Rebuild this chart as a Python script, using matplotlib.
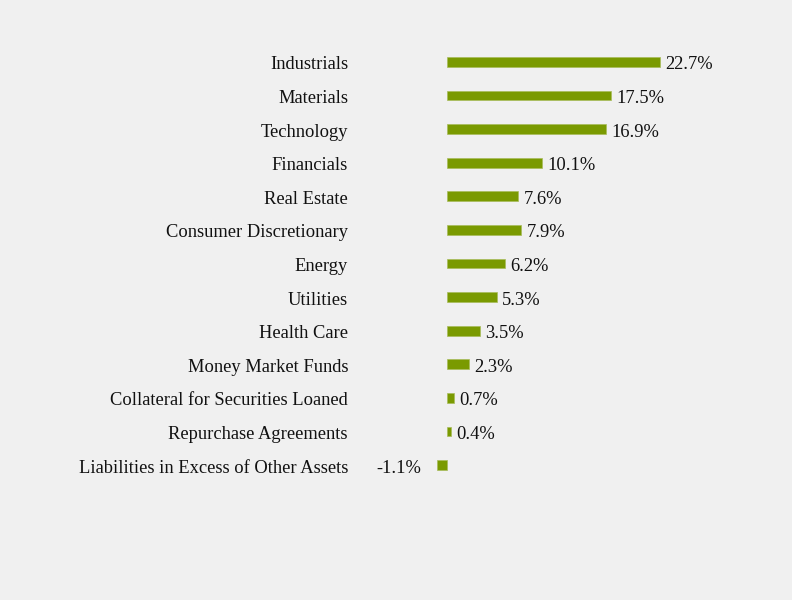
import matplotlib
matplotlib.use("Agg")
import matplotlib.pyplot as plt
from matplotlib.transforms import offset_copy

categories = ["Industrials", "Materials", "Technology", "Financials", "Real Estate",
              "Consumer Discretionary", "Energy", "Utilities", "Health Care",
              "Money Market Funds", "Collateral for Securities Loaned",
              "Repurchase Agreements", "Liabilities in Excess of Other Assets"]
values = [22.7, 17.5, 16.9, 10.1, 7.6, 7.9, 6.2, 5.3, 3.5, 2.3, 0.7, 0.4, -1.1]
labels = ["22.7%", "17.5%", "16.9%", "10.1%", "7.6%", "7.9%", "6.2%", "5.3%",
          "3.5%", "2.3%", "0.7%", "0.4%", "-1.1%"]

bg = "#f0f0f0"
bar_color = "#7a9a01"
W, H = 792, 600
plt.rcParams['font.family'] = ['Liberation Serif', 'DejaVu Serif']
fig = plt.figure(figsize=(W / 100, H / 100), dpi=100, facecolor=bg)

left_px, right_px = 360, 760
top_px, bot_px = 45.2, 481.8
ax = fig.add_axes([left_px / W, 1 - bot_px / H, (right_px - left_px) / W, (bot_px - top_px) / H])
ax.set_facecolor(bg)
scale = (660 - 447) / 22.7
ax.set_xlim(-(447 - left_px) / scale, (right_px - 447) / scale)
ax.set_ylim(len(categories) - 0.5, -0.5)

y = list(range(len(categories)))
ax.barh(y, values, height=0.29, color=bar_color, edgecolor="#a8bc5a", linewidth=0.5)

fs = 13.3
for yi, v, lab in zip(y, values, labels):
    if v >= 0:
        tr = offset_copy(ax.transData, fig=fig, x=5.5 * 0.72, y=-1 * 0.72, units='points')
        ax.text(v, yi, lab, transform=tr, ha='left', va='center_baseline', fontsize=fs, color='#111111')
    else:
        tr = offset_copy(ax.transData, fig=fig, x=-15 * 0.72, y=-1 * 0.72, units='points')
        ax.text(v, yi, lab, transform=tr, ha='right', va='center_baseline', fontsize=fs, color='#111111')

label_tr = offset_copy(ax.get_yaxis_transform(), fig=fig, x=-12 * 0.72, y=-1 * 0.72, units='points')
for yi, cat in zip(y, categories):
    ax.text(0, yi, cat, transform=label_tr, ha='right', va='center_baseline', fontsize=fs, color='#111111')

ax.set_yticks([])
ax.set_xticks([])
for s in ax.spines.values():
    s.set_visible(False)

fig.savefig("out.png", dpi=100, facecolor=bg)
